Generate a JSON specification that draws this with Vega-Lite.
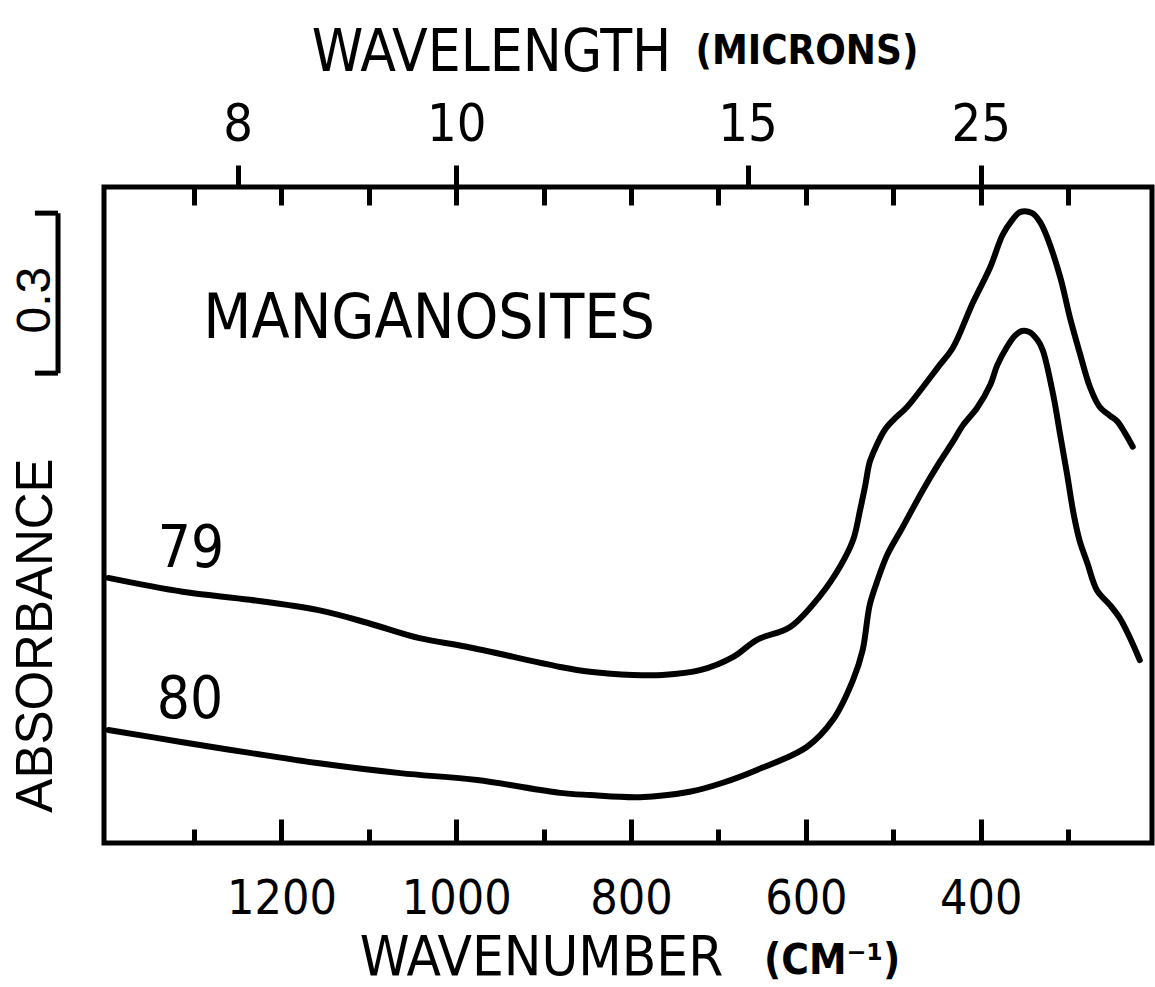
{
  "$schema": "https://vega.github.io/schema/vega-lite/v6.json",
  "width": 1048,
  "height": 656,
  "autosize": {"type": "none"},
  "padding": {"left": 104, "top": 187, "right": 3, "bottom": 144},
  "background": "white",
  "config": {
    "font": "Liberation Sans Narrow, DejaVu Sans Condensed, Liberation Sans",
    "view": {"stroke": "black", "strokeWidth": 5},
    "axis": {"domain": false, "grid": false, "tickColor": "black", "tickWidth": 5, "labelColor": "black", "titleColor": "black", "titleFontWeight": "normal", "labelFont": "Liberation Sans Narrow, DejaVu Sans Condensed, Liberation Sans", "titleFont": "Liberation Sans Narrow, DejaVu Sans Condensed, Liberation Sans"}
  },
  "datasets": {
    "curves": [
      {"sample": "79", "wn": 1398, "abs": 0.497},
      {"sample": "79", "wn": 1313, "abs": 0.471},
      {"sample": "79", "wn": 1236, "abs": 0.456},
      {"sample": "79", "wn": 1159, "abs": 0.437},
      {"sample": "79", "wn": 1102, "abs": 0.413},
      {"sample": "79", "wn": 1042, "abs": 0.384},
      {"sample": "79", "wn": 988, "abs": 0.368},
      {"sample": "79", "wn": 881, "abs": 0.330},
      {"sample": "79", "wn": 847, "abs": 0.321},
      {"sample": "79", "wn": 798, "abs": 0.315},
      {"sample": "79", "wn": 764, "abs": 0.315},
      {"sample": "79", "wn": 721, "abs": 0.324},
      {"sample": "79", "wn": 683, "abs": 0.349},
      {"sample": "79", "wn": 656, "abs": 0.381},
      {"sample": "79", "wn": 618, "abs": 0.405},
      {"sample": "79", "wn": 584, "abs": 0.463},
      {"sample": "79", "wn": 561, "abs": 0.518},
      {"sample": "79", "wn": 546, "abs": 0.568},
      {"sample": "79", "wn": 538, "abs": 0.624},
      {"sample": "79", "wn": 532, "abs": 0.671},
      {"sample": "79", "wn": 527, "abs": 0.714},
      {"sample": "79", "wn": 519, "abs": 0.746},
      {"sample": "79", "wn": 510, "abs": 0.774},
      {"sample": "79", "wn": 500, "abs": 0.793},
      {"sample": "79", "wn": 484, "abs": 0.818},
      {"sample": "79", "wn": 466, "abs": 0.855},
      {"sample": "79", "wn": 447, "abs": 0.896},
      {"sample": "79", "wn": 432, "abs": 0.928},
      {"sample": "79", "wn": 409, "abs": 1.013},
      {"sample": "79", "wn": 389, "abs": 1.080},
      {"sample": "79", "wn": 375, "abs": 1.140},
      {"sample": "79", "wn": 364, "abs": 1.168},
      {"sample": "79", "wn": 355, "abs": 1.183},
      {"sample": "79", "wn": 341, "abs": 1.181},
      {"sample": "79", "wn": 332, "abs": 1.164},
      {"sample": "79", "wn": 324, "abs": 1.136},
      {"sample": "79", "wn": 309, "abs": 1.061},
      {"sample": "79", "wn": 298, "abs": 0.986},
      {"sample": "79", "wn": 287, "abs": 0.921},
      {"sample": "79", "wn": 275, "abs": 0.855},
      {"sample": "79", "wn": 264, "abs": 0.818},
      {"sample": "79", "wn": 252, "abs": 0.801},
      {"sample": "79", "wn": 244, "abs": 0.791},
      {"sample": "79", "wn": 235, "abs": 0.769},
      {"sample": "79", "wn": 226, "abs": 0.743},
      {"sample": "80", "wn": 1398, "abs": 0.212},
      {"sample": "80", "wn": 1313, "abs": 0.189},
      {"sample": "80", "wn": 1236, "abs": 0.169},
      {"sample": "80", "wn": 1159, "abs": 0.150},
      {"sample": "80", "wn": 1064, "abs": 0.131},
      {"sample": "80", "wn": 976, "abs": 0.118},
      {"sample": "80", "wn": 881, "abs": 0.094},
      {"sample": "80", "wn": 847, "abs": 0.090},
      {"sample": "80", "wn": 790, "abs": 0.086},
      {"sample": "80", "wn": 733, "abs": 0.096},
      {"sample": "80", "wn": 695, "abs": 0.113},
      {"sample": "80", "wn": 656, "abs": 0.137},
      {"sample": "80", "wn": 599, "abs": 0.180},
      {"sample": "80", "wn": 569, "abs": 0.231},
      {"sample": "80", "wn": 546, "abs": 0.306},
      {"sample": "80", "wn": 535, "abs": 0.362},
      {"sample": "80", "wn": 527, "abs": 0.446},
      {"sample": "80", "wn": 519, "abs": 0.488},
      {"sample": "80", "wn": 507, "abs": 0.540},
      {"sample": "80", "wn": 489, "abs": 0.593},
      {"sample": "80", "wn": 466, "abs": 0.662},
      {"sample": "80", "wn": 447, "abs": 0.714},
      {"sample": "80", "wn": 432, "abs": 0.752},
      {"sample": "80", "wn": 420, "abs": 0.784},
      {"sample": "80", "wn": 404, "abs": 0.816},
      {"sample": "80", "wn": 389, "abs": 0.859},
      {"sample": "80", "wn": 381, "abs": 0.896},
      {"sample": "80", "wn": 370, "abs": 0.930},
      {"sample": "80", "wn": 361, "abs": 0.951},
      {"sample": "80", "wn": 353, "abs": 0.960},
      {"sample": "80", "wn": 344, "abs": 0.958},
      {"sample": "80", "wn": 335, "abs": 0.943},
      {"sample": "80", "wn": 329, "abs": 0.924},
      {"sample": "80", "wn": 317, "abs": 0.840},
      {"sample": "80", "wn": 309, "abs": 0.765},
      {"sample": "80", "wn": 301, "abs": 0.690},
      {"sample": "80", "wn": 294, "abs": 0.620},
      {"sample": "80", "wn": 287, "abs": 0.568},
      {"sample": "80", "wn": 278, "abs": 0.525},
      {"sample": "80", "wn": 267, "abs": 0.474},
      {"sample": "80", "wn": 252, "abs": 0.446},
      {"sample": "80", "wn": 241, "abs": 0.422},
      {"sample": "80", "wn": 229, "abs": 0.384},
      {"sample": "80", "wn": 218, "abs": 0.343}
    ],
    "labels": [
      {"sample": "79", "wn": 1303.5, "abs": 0.5175},
      {"sample": "80", "wn": 1304.6, "abs": 0.2344}
    ],
    "mineral": [
      {"name": "MANGANOSITES", "wn": 1031, "abs": 0.947}
    ]
  },
  "resolve": {"axis": {"x": "independent", "y": "independent"}},
  "layer": [
    {
      "data": {"name": "curves"},
      "transform": [{"filter": "datum.sample === '79'"}],
      "mark": {"type": "line", "stroke": "black", "strokeWidth": 6, "interpolate": "catmull-rom", "strokeCap": "round", "strokeJoin": "round", "clip": false},
      "encoding": {
        "x": {"field": "wn", "type": "quantitative", "scale": {"domain": [204, 1403], "reverse": true, "nice": false, "zero": false},
          "axis": {"orient": "bottom", "values": [1200, 1000, 800, 600, 400], "format": "d", "tickSize": -24, "labelPadding": 94, "labelBaseline": "alphabetic", "labelFontSize": 48, "labelFlush": false, "labelOverlap": false, "title": "WAVENUMBER", "titleFontSize": 56, "titleX": 437, "titleY": 131, "titleBaseline": "alphabetic", "titleAlign": "center"}},
        "y": {"field": "abs", "type": "quantitative", "scale": {"domain": [0, 1.23], "nice": false, "zero": false},
          "axis": {"orient": "left", "ticks": false, "labels": false, "title": "ABSORBANCE", "titleFont": "Liberation Sans", "titleFontSize": 51, "titleAngle": 270, "titleX": -53, "titleY": 448, "titleAlign": "center", "titleBaseline": "alphabetic"}}
      }
    },
    {
      "data": {"name": "curves"},
      "transform": [{"filter": "datum.sample === '80'"}],
      "mark": {"type": "line", "stroke": "black", "strokeWidth": 6, "interpolate": "catmull-rom", "strokeCap": "round", "strokeJoin": "round", "clip": false},
      "encoding": {
        "x": {"field": "wn", "type": "quantitative", "scale": {"domain": [204, 1403], "reverse": true, "nice": false, "zero": false},
          "axis": {"orient": "bottom", "values": [1300, 1100, 900, 700, 500, 300], "tickSize": -14, "labels": false, "title": null}},
        "y": {"field": "abs", "type": "quantitative", "scale": {"domain": [0, 1.23], "nice": false, "zero": false}, "axis": null}
      }
    },
    {
      "data": {"name": "labels"},
      "mark": {"type": "text", "fontSize": 58, "align": "center", "baseline": "alphabetic", "color": "black", "clip": false},
      "encoding": {
        "text": {"field": "sample"},
        "x": {"field": "wn", "type": "quantitative", "scale": {"domain": [204, 1403], "reverse": true, "nice": false, "zero": false},
          "axis": {"orient": "top", "values": [1250, 1000, 666.6667, 400], "labelExpr": "format(10000 / datum.value, 'd')", "tickSize": 22, "labelPadding": 25, "labelBaseline": "alphabetic", "labelFontSize": 52, "labelFlush": false, "labelOverlap": false, "title": "WAVELENGTH", "titleFontSize": 58, "titleX": 387, "titleY": -117, "titleBaseline": "alphabetic", "titleAlign": "center"}},
        "y": {"field": "abs", "type": "quantitative", "scale": {"domain": [0, 1.23], "nice": false, "zero": false}, "axis": null}
      }
    },
    {
      "data": {"name": "mineral"},
      "mark": {"type": "text", "fontSize": 62, "align": "center", "baseline": "alphabetic", "color": "black", "clip": false},
      "encoding": {
        "text": {"field": "name"},
        "x": {"field": "wn", "type": "quantitative", "scale": {"domain": [204, 1403], "reverse": true, "nice": false, "zero": false},
          "axis": {"orient": "top", "values": [1300, 1200, 1100, 1000, 900, 800, 700, 600, 500, 400, 300], "tickSize": -18, "labels": false, "title": null}},
        "y": {"field": "abs", "type": "quantitative", "scale": {"domain": [0, 1.23], "nice": false, "zero": false}, "axis": null}
      }
    },
    {
      "data": {"values": [{}]},
      "mark": {"type": "rule", "stroke": "black", "strokeWidth": 5, "clip": false},
      "encoding": {
        "x": {"datum": 1455.6, "type": "quantitative", "scale": {"domain": [204, 1403], "reverse": true, "nice": false, "zero": false}, "axis": null},
        "y": {"datum": 0.881, "type": "quantitative", "scale": {"domain": [0, 1.23], "nice": false, "zero": false}, "axis": null},
        "y2": {"datum": 1.181}
      }
    },
    {
      "data": {"values": [{}]},
      "mark": {"type": "rule", "stroke": "black", "strokeWidth": 5, "clip": false},
      "encoding": {
        "x": {"datum": 1482, "type": "quantitative", "scale": {"domain": [204, 1403], "reverse": true, "nice": false, "zero": false}, "axis": null},
        "x2": {"datum": 1455.6},
        "y": {"datum": 1.181, "type": "quantitative", "scale": {"domain": [0, 1.23], "nice": false, "zero": false}, "axis": null}
      }
    },
    {
      "data": {"values": [{}]},
      "mark": {"type": "rule", "stroke": "black", "strokeWidth": 5, "clip": false},
      "encoding": {
        "x": {"datum": 1482, "type": "quantitative", "scale": {"domain": [204, 1403], "reverse": true, "nice": false, "zero": false}, "axis": null},
        "x2": {"datum": 1455.6},
        "y": {"datum": 0.881, "type": "quantitative", "scale": {"domain": [0, 1.23], "nice": false, "zero": false}, "axis": null}
      }
    },
    {
      "data": {"values": [{}]},
      "mark": {"type": "text", "text": "0.3", "font": "Liberation Sans", "fontSize": 48, "angle": 270, "align": "center", "baseline": "alphabetic", "color": "black", "clip": false},
      "encoding": {
        "x": {"datum": 1464.8, "type": "quantitative", "scale": {"domain": [204, 1403], "reverse": true, "nice": false, "zero": false}, "axis": null},
        "y": {"datum": 1.018, "type": "quantitative", "scale": {"domain": [0, 1.23], "nice": false, "zero": false}, "axis": null}
      }
    },
    {
      "data": {"values": [{}]},
      "mark": {"type": "text", "text": "(MICRONS)", "fontSize": 40, "fontWeight": "bold", "align": "center", "baseline": "alphabetic", "color": "black", "clip": false},
      "encoding": {
        "x": {"datum": 598.8, "type": "quantitative", "scale": {"domain": [204, 1403], "reverse": true, "nice": false, "zero": false}, "axis": null},
        "y": {"datum": 1.4606, "type": "quantitative", "scale": {"domain": [0, 1.23], "nice": false, "zero": false}, "axis": null}
      }
    },
    {
      "data": {"values": [{}]},
      "mark": {"type": "text", "text": "(CM⁻¹)", "fontSize": 42, "fontWeight": "bold", "align": "center", "baseline": "alphabetic", "color": "black", "clip": false},
      "encoding": {
        "x": {"datum": 570, "type": "quantitative", "scale": {"domain": [204, 1403], "reverse": true, "nice": false, "zero": false}, "axis": null},
        "y": {"datum": -0.2456, "type": "quantitative", "scale": {"domain": [0, 1.23], "nice": false, "zero": false}, "axis": null}
      }
    }
  ]
}
